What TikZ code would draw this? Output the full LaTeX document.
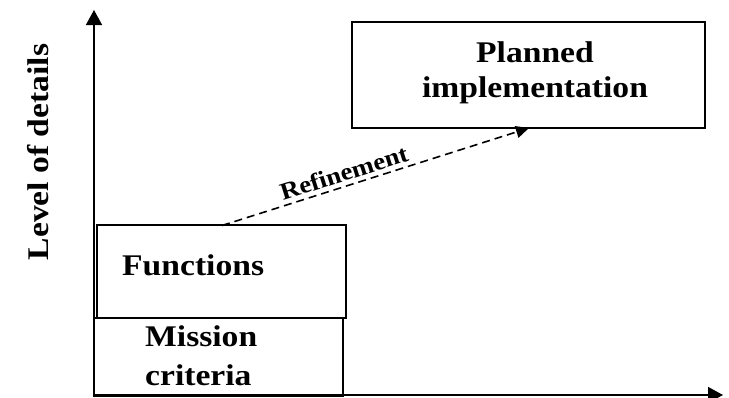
\documentclass[tikz,border=0pt]{standalone}
\usepackage{fontspec}
\setmainfont[FakeStretch=1.12]{Liberation Serif}
\usetikzlibrary{arrows.meta}
\begin{document}
\begin{tikzpicture}[x=1pt,y=-1pt,
  box/.style={draw,line width=1.6pt,inner sep=0pt},
  lbl/.style={font=\fontsize{30}{36}\selectfont\bfseries,inner sep=0pt,align=left},
  axis/.style={line width=1.6pt,-{Triangle[length=15pt,width=16pt]}},
  refine/.style={line width=1.6pt,dash pattern=on 8pt off 5pt,-{Triangle[length=13pt,width=12pt]}}]
\useasboundingbox (0,0) rectangle (729,397);
% axes
\coordinate (origin) at (94,395);
\coordinate (ytop) at (94,10);
\coordinate (xend) at (723,395);
\draw[axis] (origin) -- (ytop);
\draw[axis] (origin) -- (xend);
\node[lbl,rotate=90] (ylabel) at (38,152) {Level of details};
% blocks
\node[box,minimum width=249pt,minimum height=78pt] (mission) at (218.5,357) {};
\node[box,minimum width=249pt,minimum height=93pt] (functions) at (221.5,271.5) {};
\node[box,minimum width=353pt,minimum height=106pt] (planned) at (528.5,75) {};
\node[lbl,anchor=west,font=\fontsize{30}{39}\selectfont\bfseries] (missiontxt) at (145,356) {Mission\\criteria};
\node[lbl,anchor=west] (functionstxt) at (122,265) {Functions};
\node[lbl,align=center,font=\fontsize{30}{35}\selectfont\bfseries] (plannedtxt) at (535,73) {Planned\\implementation};
% refinement connector
\coordinate (from) at (222,225.5);
\coordinate (to) at (529,128);
\draw[refine] (from) -- (to) node[pos=0.41,above,sloped,inner sep=4pt,font=\fontsize{24}{28}\selectfont\bfseries] (reftxt) {Refinement};
\end{tikzpicture}
\end{document}
